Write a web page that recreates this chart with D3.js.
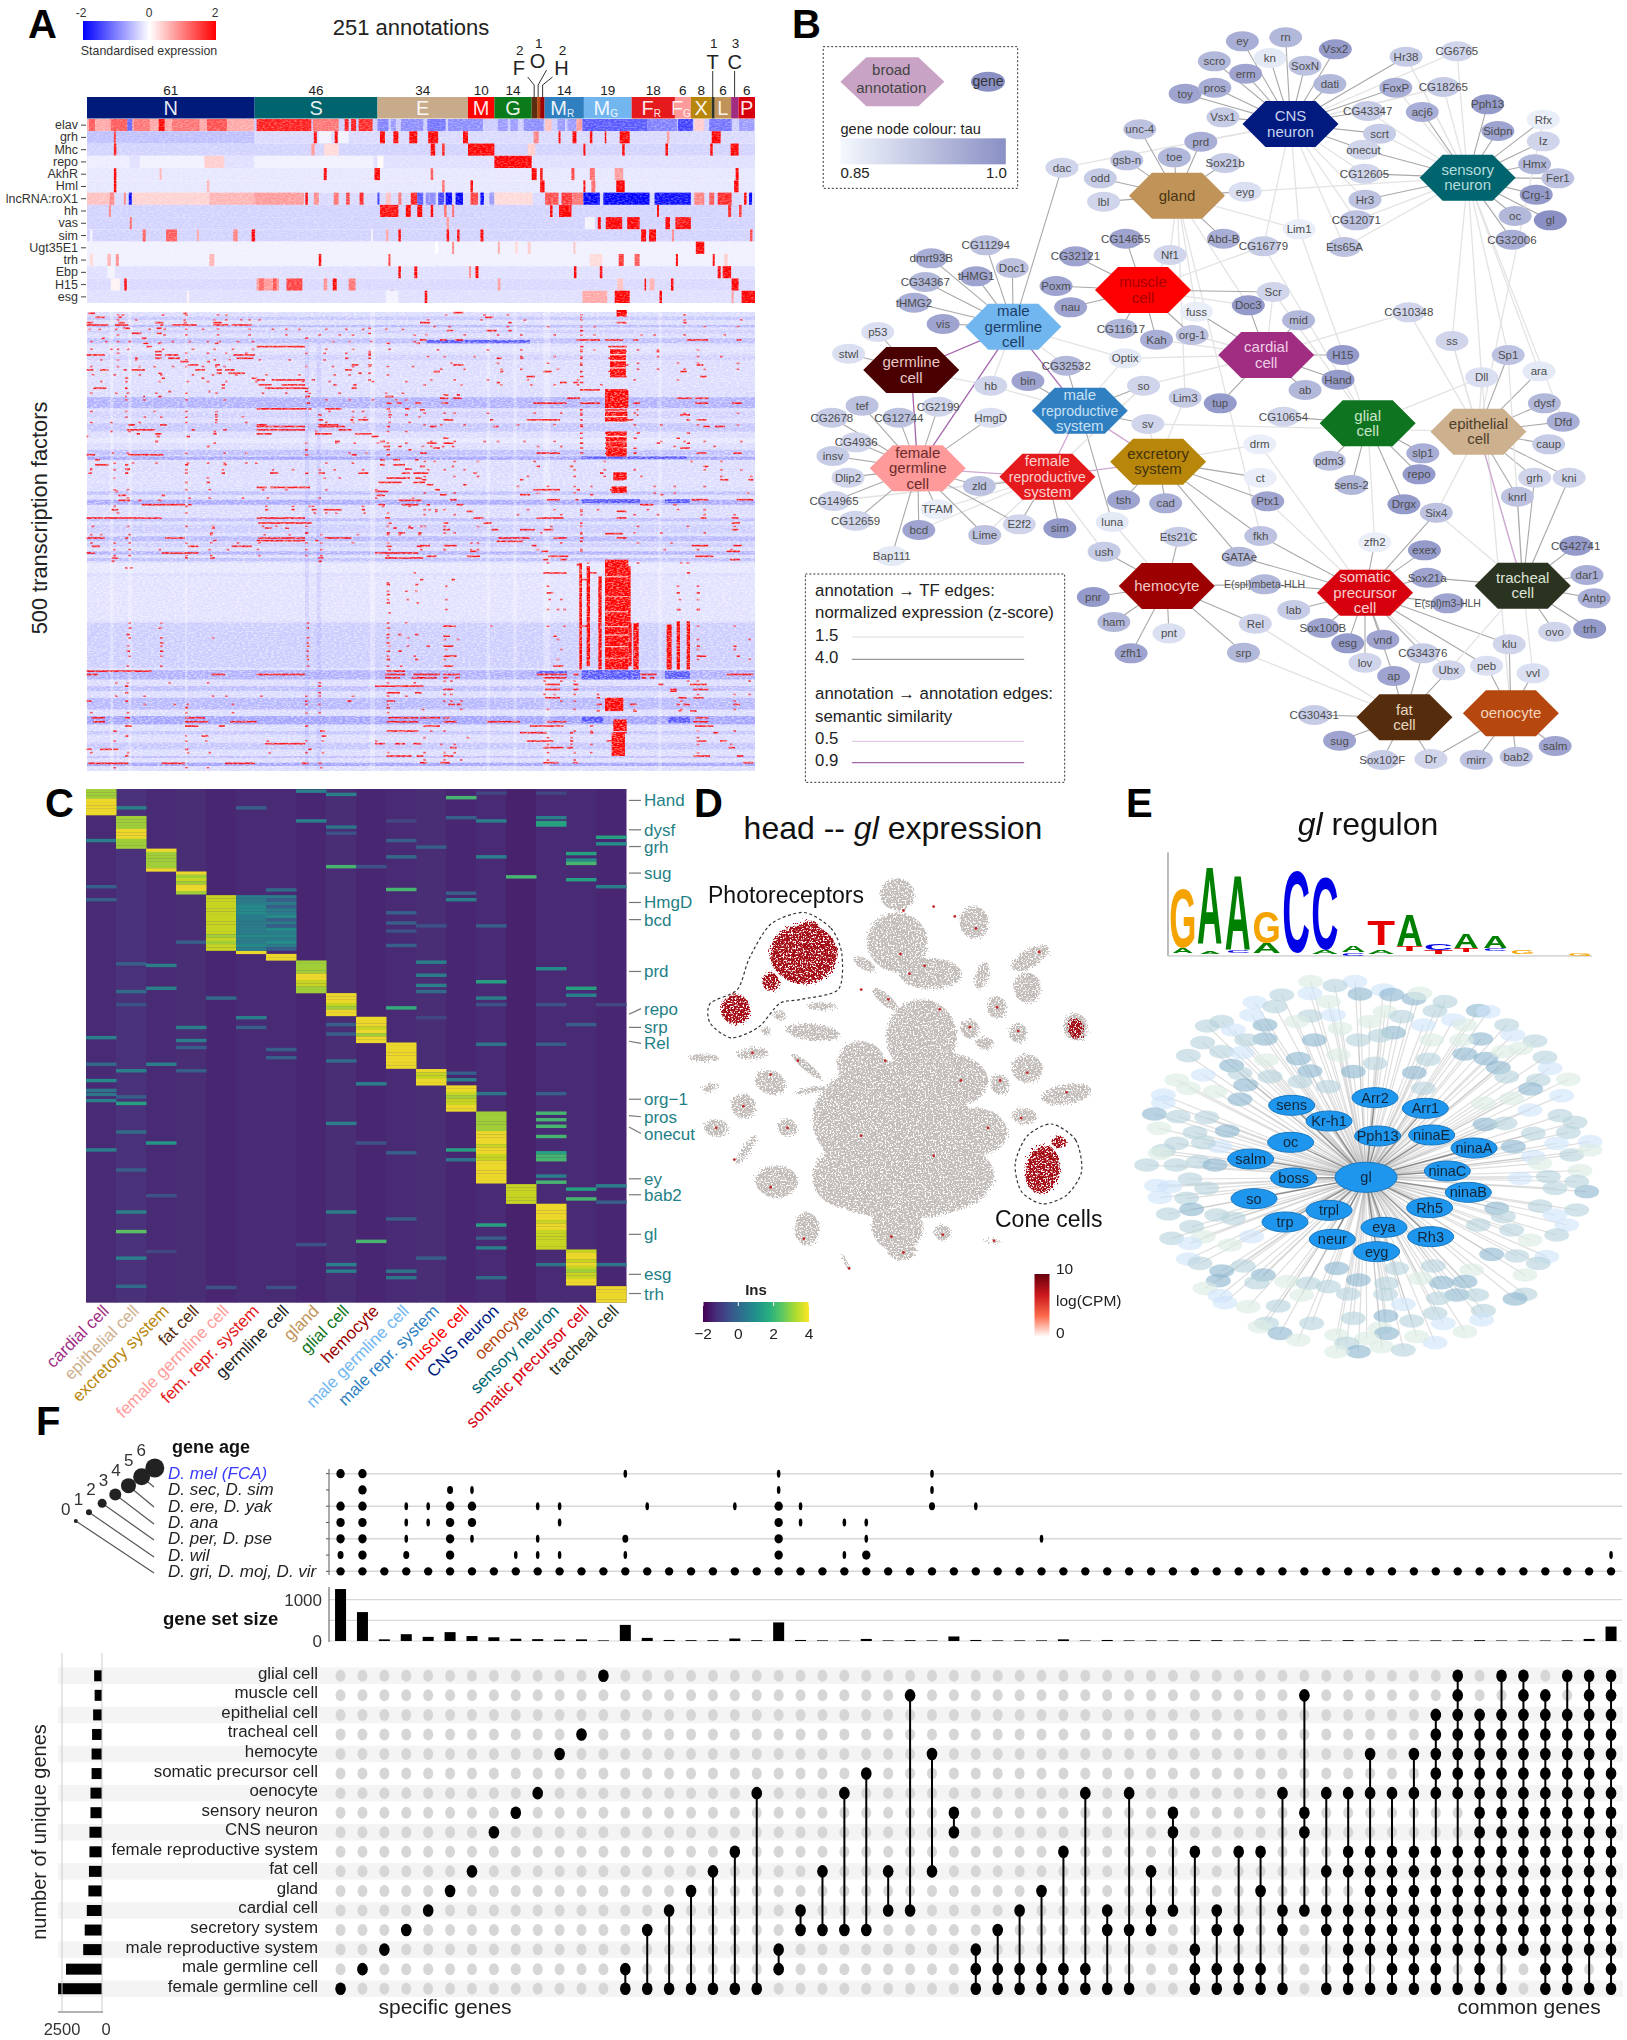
<!DOCTYPE html>
<html>
<head>
<meta charset="utf-8">
<script src="https://cdn.jsdelivr.net/npm/d3@7"></script>
<style>
  body { margin: 0; background: #fff; }
  svg { display: block; }
  text { font-family: "Liberation Sans", Arial, sans-serif; }
</style>
</head>
<body>
<div id="chart"></div>
<script>
// ---------- panel A data ----------
const groupLabels = ["N","S","E","M","G","F","O","H","M","M","F","F","X","T","L","C","P"]
const groupSubs   = ["","","","","","","","","R","G","R","G","","","","",""]
const groupCounts = [61,46,34,10,14,2,1,2,14,19,18,6,8,1,6,3,6]
const groupEdges  = [174,511,758,940,993,1068,1079,1085,1094,1173,1269,1356,1388,1430,1436,1469,1484,1517]
const groupColors = ["#001a7a","#00646e","#c8ab8a","#ff0000","#0a7a1a","#5c2d10","#b5470f","#9c0000","#2f7fc1","#72b6f0","#e41a1c","#ff9a9a","#b8860b","#2a3320","#c09358","#a02d82","#d7000f"]
const topRows = ["elav","grh","Mhc","repo","AkhR","Hml","lncRNA:roX1","hh","vas","sim","Ugt35E1","trh","Ebp","H15","esg"]
const topBase = [-.4,-.3,-.35,-.25,-.2,-.2,-.3,-.35,-.35,-.35,-.12,-.12,-.25,-.3,-.25]
const topSegs = [
  "174-510:.7 178-190:1.3 222-255:1.3 255-265:-1.2 268-300:1.1 318-330:2 345-400:1.1 415-455:1.4 515-625:1.8 628-680:1.1 692-700:1.8 705-715:1.8 720-748:1.7 758-780:-1 785-795:-.8 805-850:-.9 858-895:-1.1 900-970:-.9 1000-1020:-.8 1025-1040:-.8 1052-1092:-.9 1095-1108:.5 1120-1135:-.8 1140-1158:-.8 1158-1170:.8 1170-1300:-1.3 1300-1360:-1 1362-1392:-1.5 1395-1415:.4 1425-1470:-1.1 1485-1515:-.8",
  "174-510:-.5 228-232:1.6 630-636:2 672-678:2 763-773:2 790-800:2 822-838:2 860-880:2 930-940:2 1072-1082:1 1122-1126:2 1150-1158:2 1185-1190:2 1215-1218:2 1245-1265:2 1430-1448:2 1340-1345:.8 640-665:-.1 680-700:-.1",
  "228-233:1.8 625-632:.8 865-874:2 888-893:1.8 940-993:2 1172-1176:2 1250-1255:2 1337-1342:2 1427-1432:2 1468-1484:2 650-680:.3 1060-1075:.4",
  "175-260:-.15 280-450:-.12 410-450:.4 510-750:-.12 993-1068:2 758-770:.05",
  "228-233:2 320-324:.6 650-656:2 752-763:2 865-870:1.3 1068-1078:2 1085-1090:2 1148-1154:1.5 1185-1195:1.2 1235-1252:.8 1478-1484:2",
  "228-233:2 415-420:.6 888-893:1.2 945-950:2 1085-1094:2 1172-1176:2 1238-1255:2 1475-1484:2 1188-1196:1.2",
  "174-230:.5 220-228:1 248-252:1 258-264:-2 265-420:.35 420-510:.6 510-610:.8 613-618:2 630-640:.9 670-680:1.1 695-702:1.5 722-730:1.7 758-762:-1.5 775-785:.5 800-806:1.1 825-838:1.8 838-850:-1.3 855-875:-.9 880-892:-1.5 895-908:-2 915-930:-2 945-960:1.5 965-972:-2 983-993:-.8 993-1070:.3 1095-1122:1.4 1128-1150:1.6 1150-1172:1.1 1172-1205:-2 1212-1305:-2 1315-1388:-1.9 1395-1415:1 1425-1435:1.3 1442-1470:1.7 1495-1500:2 1505-1511:-2",
  "218-222:1 763-800:1.9 815-825:2 838-848:2 865-870:2 892-897:1.2 908-912:1.2 1105-1110:2 1123-1148:2 1320-1324:2 1463-1469:1.7 1485-1490:1.7",
  "260-264:1.2 897-902:.8 1175-1195:-.1 1201-1207:2 1217-1250:2 1260-1285:2 1337-1346:2 1357-1388:1.9",
  "180-185:-.1 286-292:1.3 333-355:1.3 395-399:.7 468-477:1 505-512:2 745-749:-.1 775-780:.7 800-805:2 897-902:2 918-923:2 965-971:2 1288-1298:2 1304-1318:2 1350-1354:1 1507-1512:1.5",
  "874-880:0 908-912:1 1000-1004:.7 1398-1415:2 1152-1156:.5 1035-1040:.3 1060-1066:.4",
  "180-186:.3 215-222:.6 232-238:.9 420-430:.6 640-645:2 780-784:1.5 1185-1210:.3 1243-1253:1.6 1275-1285:1.3 1358-1362:2 1432-1436:2 1455-1462:.4",
  "800-805:2 832-838:2 942-946:.9 955-961:2 1153-1158:2 1205-1210:2 1442-1448:2 1452-1469:2 215-230:-.1",
  "222-240:.1 249-254:2 515-560:.8 520-530:1.2 548-555:1.4 575-607:1.5 650-657:.9 668-676:2 700-714:1.1 1000-1005:.8 1295-1298:2 1305-1315:.6 1348-1353:2 1470-1484:2 1240-1252:.5",
  "375-379:.1 785-790:2 853-858:2 775-800:-.1 1170-1220:.7 1235-1265:2 1325-1330:2 1470-1474:.8 1490-1517:2"
]
// main heatmap, read-off units: horizontal background bands "v1-v2:z"
const mainBands = "20-30:-.6 45-52:-.8 60-70:-.5 85-100:-.7 110-125:-.2 135-150:-.45 160-175:-.3 200-215:-.25 240-255:-.3 262-295:-.9 305-325:-.45 340-365:-.6 385-400:-.15 420-437:-.7 440-450:-1.1 470-490:-.3 510-525:-.25 545-555:-.7 570-585:-1 600-615:-.3 625-635:-.7 645-670:-.5 680-695:-.8 700-712:-.5 725-735:-.9 745-755:-.7 760-790:-.15 800-935:-.2 940-1075:-.5 1082-1110:-.9 1130-1145:-.7 1165-1200:-.8 1220-1245:-1.1 1265-1275:-.6 1300-1320:-.6 1340-1346:-.7 1360-1370:-1.1".split(" ")
const mainColsPale = ["75-85","130-140","300-306","855-870","1205-1215","1285-1295","1720-1730","1375-1395"]
const mainColsBlue = ["660-672","695-708"]
// left half: "v u1-u2 u3-u4 ..."
const hotLeft = [
 "10 10-30 295-305","22 30-60 100-110","38 5-25 100-120 210-235 295-305 385-410","45 5-70 90-130 225-235 260-335 385-430 440-500","55 115-135 215-230 850-858","70 140-170 215-230 850-858","85 170-185 50-60 660-670","100 175-190 220-230 390-400 905-915 995-1005","110 185-200 515-660","125 210-230 850-858","135 5-60 210-230 240-280 445-510 850-858","145 150-160 210-230 250-285 455-505 780-790 850-858","155 285-310 365-375","165 310-340 390-405 800-820 850-860","180 5-25 45-70 115-125 140-180 330-360 395-410 420-450 780-800","190 395-410 430-480 220-230 820-830 850-858","205 500-515 120-130 350-358 230-240","210 515-540 560-660 680-690 850-858","225 520-560 590-660 745-755 410-420 805-815","235 25-65 540-670 800-815 410-420 120-128","245 660-670 250-258 370-376","260 120-125 175-180 660-675 900-925 220-230","280 665-675 905-920 935-950 990-1010","297 515-665 670-680 720-770 905-915 960-975","315 700-710 390-398 910-920 960-968","330 700-715 795-805 820-850 390-398","345 515-545 700-760 130-150 225-245","350 515-660 700-780 905-915","360 125-210 515-660 760-800 320-330 415-425","372 210-230 385-395 515-560 690-740 810-860 155-165","380 5-10 215-225 860-880 305-315","395 885-900 210-220 750-765","410 895-915 940-950 365-375","420 905-915 970-980 660-668","435 5-30 130-235 905-915 660-670 800-815","450 885-900 925-945 990-1000 30-45","465 30-70 885-900 925-960 300-310 415-425 120-130","478 960-980 120-135 15-22","490 10-20 120-130 555-580 660-670 700-720 820-850 950-975 985-1010 300-308 410-420","505 990-1010 905-975","518 880-950 985-1020 300-308 365-375","533 555-640 515-545 640-675","545 870-910 90-100","557 100-125 875-900 230-240","572 100-135 160-170 940-1010 220-230","585 170-300 880-900 950-1000 310-320","600 680-695 715-770 830-840 540-550 620-630 80-100","625 5-230 515-660 900-915","640 520-680 910-920","655 540-560 600-612 380-390 925-935 970-985","670 375-385 660-670 905-915 940-960 1000-1010","685 5-60 120-130 240-300 520-660 720-800","693 515-660 690-700 385-395","710 20-45 310-340 440-500 905-920 995-1015","730 5-30 230-340 870-1000","745 80-100 300-308 375-390 700-715 900-1015","755 700-710 80-90",
 "825 905-915 990-1000","855 905-915","880 905-915 995-1002","955 130-140 220-230 665-672 905-915","975 125-135 905-915 940-950 990-1000","1000 225-235 905-915 665-672","1025 125-135 225-235 905-915 665-672 940-950","1050 905-915 665-672 990-1000",
 "1085 5-200 905-960","1095 5-40 380-420 515-660 900-960 985-1010","1105 900-945 980-1015","1130 700-710 870-1015 120-130","1150 120-130 905-945 990-1010 700-708","1175 5-20 120-130 905-930 660-670 785-800","1195 905-915 300-310","1225 20-60 120-135 300-360 910-1000","1237 25-60 300-370 435-515 905-1000","1250 120-140 300-340 400-420 660-670","1265 85-95 705-720 905-1000","1280 300-305 350-370 120-130 710-725","1303 540-660 870-900 930-960 985-1010","1320 5-20 45-80 85-100 300-310 670-680","1340 905-980 995-1015 120-130","1362 10-130 230-300 420-510 650-670 700-710"
]
const hotRight = [
 "8 100-130 590-620","22 195-220 480-485","38 0-30 265-275 590-620 790-800","62 80-100 200-230 265-275 480-490","90 0-20 60-80 105-130 470-540 555-610 640-655 800-865 950-965","110 480-490 565-620","125 570-620 480-488 710-718","145 230-245 300-310 480-488 565-615","165 100-130 480-488 570-625 830-850","185 40-60 240-250 370-395 480-488 565-615 780-800","200 320-345 480-490 570-620 840-860","218 230-240 420-440 460-475 480-490",
 "240 480-540 555-620","255 70-85 110-120 555-625","265 60-85 100-125 440-480 555-625 770-815 825-865","280 65-85 340-440 480-540 555-620 640-660 825-865 935-965","300 0-15 480-488 555-620 650-655","315 480-488 555-620 650-655 780-810","330 70-100 210-220 320-420 480-488 555-640 800-810 830-860","350 30-50 220-235 480-490 850-870 885-915","370 480-488 555-620 650-660 800-810","385 70-85 480-488 555-615 640-650 770-780","400 20-50 70-100 480-490 555-610 710-720 800-810","415 40-60 480-490 555-610 640-650 780-810","430 0-20 350-420 480-490 555-615 640-650 830-860 940-965",
 "470 0-15 95-102 350-360 450-460 850-865","490 0-25 160-170 580-620 540-550","510 5-20 300-310 580-610 900-925 985-1000","525 20-40 130-140","540 45-60 340-420 470-480 570-620","555 60-80 300-330 510-520 720-730","570 90-110 380-420 465-475 815-865 950-1000","585 110-130 20-30 660-700 760-770","605 140-160 45-52 590-620 480-488","625 160-190 350-430 590-620 840-860 935-955","640 190-215 70-85 480-488 935-960","660 215-235 70-90 300-345 370-400 935-955","672 555-610 480-488","685 235-330 400-440 480-490 590-620","695 230-310 480-488","708 335-350 0-30 70-110 815-865 940-965","725 365-385 150-170 480-488 920-960","740 385-445 20-50 140-180 825-880","750 420-440 370-385 930-960",
 "765 470-485","790 370-440 505-530 800-810","810 0-10 95-105 480-510","850 380-400 770-780 830-840","900 770-780 830-840","950 70-100 480-510","980 70-90 400-410","1010 20-30 70-100 770-780 830-840 940-950","1040 70-110 830-860 950-960","1070 70-100 400-430",
 "1095 0-60 70-120 350-440 460-475 660-710 920-1000","1105 0-50 70-85 105-120 370-440 665-680 690-705","1125 715-730 375-420 460-475 810-860","1140 70-100 375-420 460-475 750-770 820-865","1145 750-770","1165 775-800 375-420 530-540 820-850","1185 790-810 85-105 110-125 530-545 770-780 630-650 940-960","1205 810-830 775-785 530-540 640-650","1225 825-865 0-60 70-90","1237 70-110 200-300 380-440 820-865","1250 825-880 10-60 330-430 510-520","1270 880-895 300-380 450-460 510-520 580-620","1295 900-920 320-400 450-460 560-610 830-860","1315 925-945 370-430 440-460 90-110","1340 950-970 70-100 820-870","1360 970-1000 370-415 460-475 0-20 60-90"
]
const hotRightBlocks = ["555-625:750-1080","478-486:760-1080","535-545:800-1080","640-656:940-1080","620-632:770-940","770-780:935-1080","800-810:935-1080","740-755:945-1080","555-610:1165-1205","580-620:1230-1265","500-510:770-1070","625-635:940-1070","555-625:240-295","555-622:305-335","558-620:365-440","570-618:118-200","590-620:0-20","575-615:1270-1340","580-620:490-510","575-620:530-550"]
const blueRightBlocks = ["485-660:1082-1110","735-810:1085-1108","485-550:1222-1240","745-810:1222-1240","485-800:440-447","485-660:568-580","735-810:568-580","350-440:1085-1092","20-330:90-100"]
const paleRightGaps = ["555-625:950-953","555-625:975-978","555-625:1010-1013","555-625:1045-1047","555-625:800-803","555-625:860-862","555-625:905-908","570-618:132-136","570-618:150-154","570-618:172-176","558-620:378-382","558-620:395-398","558-620:412-416","555-622:318-322"]
// single hot cells, "v u u u ..."
const spotsLeft = ["15 95 110 230 300 395 420","30 95 150 295 385 420 465 490 520","58 10 40 90 190 235 300 350 395 490 560 600 640 720 780 830 900 950","75 95 235 300 395 490 600 700 760 800 985","95 15 60 95 130 260 310 365 400 455 500 740 790 855 985","118 15 75 95 125 230 320 385 440 500 720 800 910","130 95 300 365 420 480 660 715 780 850","150 45 95 150 300 385 430 520 610 715","170 15 95 160 205 260 300 350 390 415 660 740 800 850 905 980","195 20 85 160 225 320 380 450 540 640 745 790 905","215 45 120 220 305 365 420 510 650 730 860 960","250 15 90 125 210 300 390 530 600 670 760 900 950","270 120 175 300 415 720 790 860 930 960","305 15 120 205 300 390 730 800 830 910","322 120 175 225 300 390 470 800 835 910 1000","338 15 75 160 300 390 480 720 800 910 970","365 75 130 385 690 905 960","400 385 660 750 805 875 905 960","430 80 125 300 415 480 790 840","460 85 140 210 305 365 415 480 510 720 800","480 15 85 125 300 410 560 620 700 745 830","505 85 365 715 760","540 85 125 300 370 530 600 720 870","565 125 310 370 470 545 700 870 980","590 85 300 540 620 670 680 830 890 970","610 95 300 685 720 750 835 905","650 20 125 300 380 530 570 660 905 970 1005","675 15 45 130 375 535 610 705 815 905 940 1000","700 15 85 130 300 375 455 520 660 705 800 905","720 85 130 220 370 425 515 660 705 910","738 85 130 300 375 520 660 705 905","775 120 135","790 985","820 905","845 905 960 990","870 905 965","910 910","940 130 225 665 905 960","985 130 225 380 665 905 965","1010 125 225 665 910 965","1040 130 225 665 905 985","1070 125 225 665 905 945","1120 90 125 250 365 700 905 985","1160 90 175 380 420 525 660 700 800 905 960","1185 175 265 305 440 660 700 905","1210 15 125 300 440 660 700 905","1295 85 300 360 545 660 710 870","1330 15 125 305 370 550 660 710 905","1375 85 300 365 705"]
const spotsRight = ["15 75 190 260 480 790","30 20 180 310 480 790 960","50 40 85 260 380 480 520 850 950","75 15 130 230 300 400 480 520 660 700 790 910","120 50 200 300 480 520 650 710 830","140 20 70 160 300 400 480 710 830 900","160 90 230 380 480 650 770 830 950","178 60 130 240 300 410 650 710 790 850 950","210 30 100 200 320 470 640 770","225 10 120 240 330 400 470 540","310 10 70 100 200 340 420 480 640 790 950","345 10 60 130 290 400 480 640 720 830 950","395 30 100 190 230 310 400 720 790 850 960","410 5 30 65 95 350 420 760 880","455 10 40 100 170 340 460 550 810 900","480 20 70 130 460 550 640 850 900 960","500 10 100 170 320 460 550 660 900 990","530 290 380 460 510 700 760 850","550 10 100 350 460 700 760 980","600 10 25 45 70 320 400 480 530 680 770 850","615 10 100 290 420 480 640 710 850 940","650 10 70 170 390 480 650 800 940","670 70 100 360 480 640 720 850","700 150 170 420 650 750","720 0 70 150 170 350 480 730 830 930","760 380 500 650 780 800","830 75 380 770 830","870 75 385 420 775 830","900 75 380 410 430 775 830","950 70 100 210 380 430 830 940","990 70 110 410 830 985","1020 75 420 830 940","1050 70 410 830 985","1115 70 90 370 420 460 800 830 985","1155 70 90 370 400 460 530 830 940 985","1175 70 90 120 420 460 780 940","1200 5 120 380 460 640 780 940","1265 30 70 460 510 830 940","1285 10 140 380 450 830","1305 60 100 380 450 510 830 930","1330 10 70 100 380 460 510 830","1352 10 70 120 380 460"]

// ---------- panel C data ----------
const cCells  = ["cardial cell","epithelial cell","excretory system","fat cell","female germline cell","fem.  repr. system","germline cell","gland","glial cell","hemocyte","male germline cell","male repr. system","muscle cell","CNS neuron","oenocyte","sensory neuron","somatic precursor cell","tracheal cell"]
const cColors = ["#a02d82","#cdb08e","#b8860b","#562d0c","#ff9a9a","#e41a1c","#222222","#c09358","#0f7420","#9c0000","#72b6f0","#2f7fc1","#ff0000","#001a7f","#b5470f","#00646e","#d7000f","#2a3320"]
const cColBase = [.1,.13,.1,.11,.09,.1,.1,.09,.11,.09,.1,.11,.09,.1,.08,.1,.1,.09]
const cBlockStart = [22,88,168,224,282,418,426,442,522,580,643,708,748,812,990,1038,1150,1240]
const cBlockDigits = ["77799999","7777999777","9777779","9787997","88888888888878788","9","99","7777998877","9998799","99989799","99999999","98899","99878899","7777779999899889999999","888888","99999899888888","89989878899","99999"]
const cTeal5 = "44455544444454454"
const cTeal6 = "43434453435454543"
const cStripes = [[7,27,.45],[8,35,.45],[12,43,.7],[13,32,.2],[15,32,.2],[1,68,.45],[5,68,.3],[7,100,.45],[10,100,.2],[12,92,.3],[13,100,.45],[15,92,.45],[15,110,.6],[15,104,.6],[8,115,.4],[8,130,.25],[17,140,.6],[17,156,.5],[0,148,.45],[10,148,.3],[11,164,.3],[16,180,.6],[16,196,.5],[16,204,.7],[13,188,.45],[10,188,.35],[8,212,.7],[9,212,.25],[14,237,.7],[16,244,.6],[17,261,.45],[0,261,.3],[10,268,.7],[12,277,.3],[12,293,.45],[0,293,.3],[6,269,.35],[13,357,.3],[10,325,.3],[10,350,.3],[10,370,.25],[10,405,.3],[3,397,.3],[11,357,.25],[1,450,.3],[2,454,.45],[1,518,.35],[2,510,.45],[11,446,.45],[11,478,.45],[11,503,.45],[11,518,.35],[13,494,.6],[15,462,.5],[16,510,.6],[16,527,.45],[4,534,.35],[13,534,.45],[13,550,.25],[15,550,.25],[1,550,.25],[10,558,.65],[5,582,.45],[5,606,.3],[3,606,.45],[3,638,.45],[0,631,.45],[8,599,.3],[8,622,.3],[11,582,.2],[17,550,.2],[16,599,.3],[3,655,.3],[13,647,.4],[15,647,.3],[0,696,.35],[2,696,.45],[1,712,.45],[8,688,.35],[6,660,.3],[6,680,.3],[3,712,.3],[12,718,.3],[12,734,.45],[9,744,.45],[0,736,.5],[0,760,.4],[0,770,.4],[0,785,.45],[1,792,.6],[1,776,.3],[13,768,.4],[15,768,.3],[8,841,.45],[1,862,.35],[2,889,.55],[0,906,.45],[12,906,.6],[12,930,.4],[9,889,.25],[10,913,.3],[1,955,.3],[15,816,.7],[15,832,.7],[15,848,.7],[15,873,.7],[15,913,.6],[15,921,.7],[15,930,.7],[15,970,.45],[15,985,.7],[13,1090,.6],[13,1122,.3],[13,1146,.45],[16,1002,.6],[16,1026,.7],[17,994,.45],[17,1034,.3],[8,1058,.45],[1,1058,.45],[1,1106,.75],[1,1171,.45],[1,1240,.35],[9,1130,.7],[8,1187,.45],[8,1203,.45],[10,1075,.3],[10,1203,.4],[10,1219,.4],[13,1219,.35],[15,1187,.4],[17,1187,.4],[11,1171,.3],[4,1243,.25],[6,1243,.25],[7,1138,.25],[2,1018,.25],[2,1155,.2]]
const cTFs   = ["Hand","dysf","grh","sug","HmgD","bcd","prd","repo","srp","Rel","org−1","pros","onecut","ey","bab2","gl","esg","trh"]
const cTFpos = [50,122,163,228,300,342,469,560,606,645,782,825,866,977,1016,1113,1211,1258]
const cTFrow = [50,122,163,228,300,342,469,574,606,640,782,822,850,977,1016,1113,1211,1258]

// ---------- panel B data ----------
const hubNames = ["CNS neuron","sensory neuron","gland","muscle cell","male germline cell","germline cell","cardial cell","male reproductive system","epithelial cell","glial cell","excretory system","female reproductive system","female germline cell","hemocyte","somatic precursor cell","tracheal cell","fat cell","oenocyte"]
const hubColors = ["#001a7f","#00646e","#c09358","#ff0000","#72b6f0","#4a0000","#a02d82","#2f7fc1","#cdb08e","#0f7420","#b8860b","#e41a1c","#ff9a9a","#9c0000","#d7000f","#2a3320","#562d0c","#b5470f"]
const hubText   = ["#c8d2f0","#b4dcdc","#4a3312","#a80000","#1c3e66","#e8c8c8","#f0cfe6","#c8e0f4","#4e3f2c","#c8e6c8","#43320a","#fbd0d0","#6a2c2c","#f4c8c8","#f8d0d0","#dfe4d8","#e8d6c0","#f4d4bc"]
const hubX = [945,1273,735,672,432,243,900,555,1293,1088,700,495,255,716,1083,1375,1156,1353]
const hubY = [372,533,587,870,980,1110,1065,1232,1295,1270,1385,1430,1405,1758,1778,1757,2152,2140]
const geneNames = "ey rn kn Vsx2 scro erm SoxN dati Hr38 CG6765 toy pros FoxP CG18265 Vsx1 CG43347 acj6 Pph13 Rfx unc-4 scrt Sidpn Iz prd onecut toe gsb-n Sox21b Hmx dac odd Fer1 CG12605 eyg Crg-1 lbl Hr3 oc gl CG12071 Lim1 CG14655 Abd-B CG32006 CG16779 Ets65A CG11294 dmrt93B Nf1 CG32121 Doc1 tHMG1 CG34367 Poxm Scr tHMG2 nau Doc3 fuss CG10348 mid vis CG11617 org-1 Kah p53 ss stwl H15 Sp1 Optix CG32532 Hand Dll ara hb bin so ab Lim3 tup dysf tef CG2199 CG2678 CG12744 HmgD sv Dfd caup CG4936 drm CG10654 insv slp1 Dlip2 repo pdm3 ct grh kni zld sens-2 tsh cad Ptx1 knrl Six4 Drgx CG14965 CG12659 TFAM E2f2 sim bcd Lime luna fkh Ets21C zfh2 ush exex GATAe CG42741 Bap111 dar1 Sox21a E(spl)mbeta-HLH pnr E(spl)m3-HLH Antp lab ham Sox100B Rel pnt ovo trh esg vnd klu zfh1 srp lov CG34376 peb Ubx vvl ap CG30431 sug salm Sox102F Dr mirr bab2".split(" ")
const geneX = [856,936,907,1028,804,862,972,1018,1159,1253,750,805,1140,1228,820,1088,1189,1310,1413,666,1110,1329,1413,779,1080,730,642,824,1397,522,593,1440,1082,861,1400,599,1083,1361,1426,1067,961,640,821,1355,895,1045,381,280,722,547,430,363,269,511,913,248,538,867,771,1164,960,302,631,763,697,181,1244,127,1042,1348,639,530,1033,1299,1405,390,459,673,972,750,815,1415,152,293,96,220,390,681,1450,1423,141,888,932,98,1190,126,1183,1017,889,1397,1461,369,1058,636,714,903,1365,1215,1155,100,140,291,443,518,257,379,615,890,738,1101,600,1193,850,1473,207,1494,1198,897,580,1236,1507,951,618,1005,880,720,1434,1499,1051,1116,1350,650,858,1083,1190,1308,1238,1394,1136,989,1036,1435,1115,1205,1289,1363]
const geneY = [124,112,174,148,184,221,197,252,170,154,281,263,263,261,352,333,336,313,359,388,401,393,424,425,449,472,481,489,493,503,535,535,521,575,584,605,599,648,661,661,688,716,716,719,739,741,736,775,765,769,804,829,846,858,876,908,922,916,935,937,961,972,986,1005,1019,996,1023,1061,1065,1065,1075,1097,1139,1132,1114,1157,1143,1157,1170,1193,1210,1210,1217,1220,1253,1253,1253,1272,1265,1333,1327,1333,1250,1368,1360,1433,1423,1382,1433,1433,1433,1458,1455,1500,1510,1504,1490,1538,1513,1503,1562,1528,1573,1585,1590,1605,1566,1608,1610,1627,1655,1651,1670,1637,1668,1725,1733,1753,1791,1810,1795,1830,1866,1884,1871,1900,1895,1886,1930,1919,1933,1960,1958,1988,1960,1997,2011,2020,2028,2145,2222,2238,2280,2277,2279,2270]
const geneTau = [.7,.6,.1,.9,.6,.8,.5,.6,.4,.3,.8,.7,.7,.4,.4,.4,.7,.9,.05,.5,.4,.8,.3,.7,.3,.6,.5,.4,.6,.3,.4,.5,.3,.2,.9,.3,.5,.6,1,.5,.05,.8,.7,.7,.4,.5,.5,.7,.3,.8,.5,.8,.6,.8,.3,.7,.8,.9,.05,.3,.6,.8,.6,.5,.7,.2,.3,.2,.9,.5,.1,.6,.9,.2,.1,.3,.8,.3,.6,.4,.9,.6,.5,.3,.4,.5,.2,.3,.7,.4,.3,.05,.3,.4,.7,.3,.9,.5,.05,.3,.3,.5,.6,.8,.7,.8,.5,.5,.9,.3,.3,.05,.3,.9,.8,.5,.1,.5,.4,.05,.4,.9,.6,.9,.1,.7,.8,.6,.9,.8,.7,.4,.6,.8,.3,.2,.3,.9,.9,.8,.3,.8,.6,.3,.4,.2,.3,.2,.8,.4,.8,.8,.4,.3,.5,.5]
const edgeHub = [0,1,2,3,4,5,6,7,8,9,10,11,12,13,14,15,16,17]
const edgeStrong = ["ey rn kn Vsx2 scro erm SoxN dati Hr38 FoxP toy pros Vsx1 CG43347 scrt onecut","Pph13 Rfx Iz Hmx Fer1 Crg-1 oc gl CG32006 Sidpn onecut Hr3 CG12605 acj6","unc-4 toe gsb-n odd prd Sox21b eyg lbl Abd-B","Poxm nau CG32121 CG14655 CG11617 Kah org-1 Scr","CG11294 dmrt93B Doc1 tHMG1 CG34367 tHMG2 vis dac","p53 stwl","mid H15 Hand ab tup Doc3 fuss","bin CG32532 so sv luna","dysf Dfd caup grh kni knrl ara Sp1","CG10654 slp1 repo pdm3 sens-2 Drgx","tsh cad Ptx1 GATAe fkh ct","sim zld E2f2","tef CG2678 CG12744 CG4936 insv Dlip2 CG14965 CG12659 TFAM bcd Bap111 Lime zld E2f2 CG2199 HmgD","pnr ham zfh1 pnt Rel srp ush Ets21C E(spl)mbeta-HLH","lab Sox100B esg vnd lov exex Sox21a Six4 zfh2 GATAe fkh klu E(spl)m3-HLH E(spl)mbeta-HLH CG34376 peb ap","CG42741 dar1 Antp ovo trh knrl kni grh Sox21a","CG30431 sug Sox102F Dr ap CG34376 Ubx","salm bab2 mirr Dr peb klu vvl"]
const edgeWeak = ["CG6765 Lim1 CG12605 Hr3 CG12071 Ets65A CG16779 prd CG18265 dac","scrt CG43347 Hr38 CG18265 CG6765 FoxP CG12071 Ets65A eyg ss Dll Sp1 ara Dfd","Lim1 fuss Nf1 Doc3 fkh Lim3","Nf1 CG16779 Doc3","Optix hb CG32532","hb","Scr Kah org-1 CG10348 so Optix","hb Optix","Dll ss sv Six4 Rfx CG10348","Lim1 Dll zfh2 Scr CG16779","drm sv Lim3","ush Lime bcd TFAM CG14965 so","","luna","drm Ptx1 Ubx","vvl Six4 Ubx ss Sp1","Rel srp","Dll"]
const simPairs = [[4,5],[5,12],[4,12],[4,7],[7,11],[7,10],[12,11],[11,10],[8,15]]

// ---------- panel D data ----------
const greyClusters = [[350,860,130,150,0],[400,650,58,95,10],[370,1000,150,110,0],[490,890,52,60,0],[285,1010,65,75,0],[360,1130,42,62,0],[367,1190,24,24,0],[440,760,70,70,0],[300,720,40,60,0],[360,290,28,40,0],[360,410,50,75,0],[415,490,52,38,0],[487,360,24,40,0],[580,450,35,22,-30],[575,525,22,38,0],[500,495,11,35,20],[305,465,20,14,30],[340,555,26,14,40],[525,575,16,28,0],[560,640,15,24,0],[480,630,15,24,0],[505,665,15,15,0],[655,625,20,35,-10],[575,730,25,35,0],[640,795,42,24,-10],[530,770,15,25,0],[570,850,20,20,0],[505,1010,15,18,0],[220,638,45,20,5],[120,692,26,14,-5],[40,703,25,9,0],[50,778,15,9,-20],[150,765,25,30,20],[210,725,32,10,40],[105,825,20,30,0],[60,880,20,22,0],[178,880,16,22,0],[110,935,30,9,-55],[160,1015,35,40,0],[210,1135,20,42,0],[435,1145,14,20,0],[518,1167,14,4,0],[275,1220,3,22,-25],[215,785,26,7,-10],[235,572,25,9,0],[165,595,10,12,0],[143,635,7,12,0]]
const redClusters = [[205,440,56,75,0],[215,372,15,16,0],[150,510,14,24,0],[92,580,24,38,0],[600,985,28,62,10],[627,915,12,15,0],[655,628,12,26,0]]
const redSpots = [[370,330],[365,440],[405,470],[490,375],[380,490],[345,555],[420,320],[455,345],[525,575],[560,635],[480,625],[595,435],[575,740],[640,790],[530,760],[150,745],[105,825],[60,880],[178,880],[90,960],[150,1030],[205,1160],[435,1150],[370,1195],[350,1155],[520,1165],[280,1235],[300,530],[430,580],[465,760],[510,880],[565,855],[120,690],[195,710],[340,710],[300,900],[420,950]]
const photoOutline = [[205,335],[250,375],[268,440],[262,530],[200,555],[165,565],[130,625],[85,652],[50,615],[50,565],[95,530],[115,450],[150,365]]
const coneOutline = [[615,870],[655,910],[665,990],[640,1050],[600,1072],[565,1040],[555,970],[575,900]]

// ---------- panel E data ----------
const logoLetters = [["G",810,855,270,422,"#f5a300"],["A",856,898,213,412,"#008000"],["A",902,945,238,430,"#008000"],["G",948,995,332,412,"#f5a300"],["C",997,1043,227,435,"#0000e6"],["C",1045,1090,243,428,"#0000e6"],["A",948,995,412,438,"#008000"],["A",1095,1135,418,436,"#008000"],["T",1138,1184,355,418,"#e60000"],["A",1186,1230,338,420,"#008000"],["C",1232,1280,415,431,"#0000e6"],["A",1281,1322,388,425,"#008000"],["A",1330,1370,395,425,"#008000"],["A",815,850,424,438,"#008000"],["A",860,895,432,440,"#008000"],["C",905,945,430,438,"#0000e6"],["A",1045,1090,430,440,"#008000"],["C",1095,1135,436,444,"#0000e6"],["A",1138,1184,430,440,"#008000"],["T",1186,1230,420,432,"#e60000"],["T",1232,1280,431,441,"#e60000"],["T",1281,1322,425,435,"#e60000"],["C",1330,1370,425,433,"#0000e6"],["G",1375,1415,430,440,"#f5a300"],["G",1470,1510,436,444,"#f5a300"]]
const innerNames = ["Arr2","Arr1","sens","Kr-h1","Pph13","ninaE","ninaA","oc","salm","boss","ninaC","ninaB","so","Rh5","trpl","trp","eya","Rh3","neur","eyg"]
const innerX = [765,916,515,627,773,935,1062,512,392,521,982,1045,402,929,627,495,792,932,637,770]
const innerY = [413,445,436,483,528,525,564,547,597,654,633,697,716,743,751,786,802,830,838,875]
const outerPts = "572,65,1 705,65,0 645,77,2 790,90,0 720,102,3 815,104,3 882,116,3 485,105,2 570,100,0 900,100,1 975,125,2 625,125,1 405,127,0 1075,152,3 465,140,2 945,153,2 1105,155,0 570,168,2 640,165,0 795,155,1 845,170,2 530,185,1 750,185,1 435,195,3 305,185,2 262,198,2 1160,195,2 910,195,0 395,165,0 1000,180,0 1035,195,1 340,210,0 660,205,1 820,218,3 780,227,2 583,240,3 715,240,2 435,237,3 380,240,2 1082,237,3 1178,225,0 1025,240,1 935,240,1 248,248,2 1245,243,2 205,287,2 1035,282,3 1098,296,3 1202,265,1 1275,292,2 535,296,3 305,275,2 365,278,0 655,285,1 1150,275,1 925,298,2 765,310,2 440,300,1 1135,323,3 335,317,3 570,333,3 700,335,3 883,338,3 1290,325,0 1160,350,2 360,340,2 250,345,0 450,350,2 1345,358,1 170,360,1 1255,360,2 377,375,3 540,365,2 625,380,2 910,385,2 1232,387,3 130,405,0 205,385,1 1325,407,0 360,418,3 285,395,1 130,428,0 1090,430,1 1175,415,1 103,462,3 175,470,2 260,472,2 1320,467,2 1230,450,0 1095,493,3 1155,490,2 117,505,1 322,513,3 1365,487,2 225,518,2 1240,520,2 1345,517,2 170,550,2 130,572,2 300,560,0 250,548,2 1180,560,3 1310,550,0 1410,545,0 1240,590,0 1355,585,2 120,580,1 168,615,2 235,605,2 80,615,2 285,615,3 1260,610,1 1410,570,1 210,657,2 110,677,0 1285,650,2 1380,632,1 1200,655,0 150,680,0 260,685,2 1305,685,2 1400,695,3 1370,665,2 120,712,0 200,715,2 1130,745,3 1260,738,2 215,748,3 145,762,2 1370,750,2 290,765,2 1305,765,0 1150,770,2 340,775,2 215,800,2 1075,795,2 1340,795,0 1175,810,2 155,835,2 250,830,1 395,830,0 1310,825,2 1230,840,1 210,850,0 330,855,1 1115,883,3 1190,888,2 205,897,0 1280,890,0 240,910,2 1255,910,2 370,918,2 430,945,3 305,933,3 650,925,3 830,925,2 940,918,2 1055,930,1 295,962,3 410,968,2 500,965,1 715,960,3 965,968,3 1035,965,3 1215,945,1 255,985,1 565,970,2 800,970,2 900,955,1 1010,1005,3 1070,1005,2 1215,1003,2 1185,1017,3 300,1007,0 315,1028,0 385,1040,1 475,1038,2 685,1002,2 797,1003,2 955,1015,2 625,980,2 545,1005,1 1090,1052,2 945,1060,2 850,1033,0 700,1075,2 798,1068,3 875,1083,2 575,1090,2 1085,1080,0 970,1090,0 440,1090,2 420,1100,1 480,1120,3 535,1140,1 780,1105,1 800,1120,3 740,1135,1 650,1125,1 680,1150,2 715,1175,3 650,1175,1 785,1160,1 850,1170,2 945,1148,0 890,1130,1 1035,1115,1".split(" ")

// ---------- panel F data ----------
const setNames = ["glial cell","muscle cell","epithelial cell","tracheal cell","hemocyte","somatic precursor cell","oenocyte","sensory neuron","CNS neuron","female reproductive system","fat cell","gland","cardial cell","secretory system","male reproductive system","male germline cell","female germline cell"]
const setTotals = [490,460,555,620,650,650,720,720,785,785,815,850,950,1080,1175,2250,2745]
const ageNames = ["D. mel (FCA)","D. sec, D. sim","D. ere, D. yak","D. ana","D. per, D. pse","D. wil","D. gri, D. moj, D. vir"]
const combos = [[16],[15],[14],[13],[12],[11],[10],[8],[7],[6],[4],[3],[0],[15,16],[13,16],[12,16],[11,16],[10,16],[9,16],[6,16],[14,15],[12,13],[10,13],[6,13],[5,13],[10,12],[1,12],[4,10],[7,8],[14,15,16],[13,15,16],[12,15,16],[11,15,16],[9,15,16],[6,15,16],[12,13,16],[6,13,16],[10,12,13],[7,8,12],[9,14,15,16],[12,13,15,16],[9,13,15,16],[9,11,15,16],[6,12,13,16],[1,7,8,12],[6,10,12,13,16],[6,9,10,12,13,14,15,16],[4,6,9,10,11,12,13,14,16],[6,9,10,11,12,13,14,15,16],[4,6,9,10,11,12,13,14,15,16],[2,3,4,5,6,9,10,11,12,13,14,15,16],[0,1,2,3,4,5,6,9,10,11,12,13,14,16],[2,3,4,5,6,7,8,9,10,11,12,13,14,15,16],[0,2,3,4,5,6,7,8,9,10,11,12,13,14,16],[0,1,2,3,4,5,6,7,8,9,10,11,12,13,14],[1,2,3,4,5,6,7,8,9,10,11,12,13,14,15,16],[0,2,3,4,5,6,7,8,9,10,11,12,13,14,15,16],[0,1,2,3,4,5,6,7,8,9,10,11,12,13,14,16],[0,1,2,3,4,5,6,7,8,9,10,11,12,13,14,15,16]]
const setSizes = [1258,700,40,165,100,215,120,90,55,45,35,40,15,390,75,25,20,20,60,20,450,25,15,12,50,15,20,15,110,25,15,15,15,40,12,25,15,15,15,20,20,12,12,12,15,12,20,15,15,12,15,15,20,12,12,12,15,50,350]
// which columns carry a mark per age row, b=big m=medium s=small
const ageBig = [[0,1],[1],[0,1,5,6,20],[0,1,5,6,20],[0,1,5,20],[1,5,20,24],[]]
const ageMed = [[],[5],[27],[],[13],[0,3],[]]
const ageSmall = [[13,20,27],[6,20,27],[3,4,9,10,14,18,21,29],[3,4,10,21,23,24],[3,6,9,24,32],[8,9,10,13,23,58],[]]

// ---------- drawing ----------
const svg = d3.select("#chart").append("svg").attr("width", 1627).attr("height", 2040)
const defs = svg.append("defs")
const blueRed = d3.scaleLinear().domain([-2,0,2]).range(["#0000ff","#ffffff","#ff0000"]).clamp(true)

function gradient(id, stops, vertical) {
  const g = defs.append("linearGradient").attr("id", id).attr("x1",0).attr("y1",vertical?1:0).attr("x2",vertical?0:1).attr("y2",0)
  stops.forEach((c,i) => g.append("stop").attr("offset", i/(stops.length-1)).attr("stop-color", c))
}
gradient("gradBR", ["#0000ff","#ffffff","#ff0000"])
gradient("gradTau", ["#f4f8fe","#8a90c4"])
gradient("gradViridis", d3.range(9).map(i => d3.interpolateViridis(i/8)))
gradient("gradReds", ["#ffffff","#fb6a4a","#cb181d","#67000d"], true)

// white grain that breaks up the heatmap
const grain = defs.append("filter").attr("id","grain").attr("x",0).attr("y",0).attr("width",1).attr("height",1)
grain.append("feTurbulence").attr("type","fractalNoise").attr("baseFrequency","0.35 0.8").attr("numOctaves",2).attr("seed",3)
grain.append("feColorMatrix").attr("values","0 0 0 0 1  0 0 0 0 1  0 0 0 0 1  3.2 0 0 0 -1.35")
defs.append("filter").attr("id","soft").attr("x",0).attr("y",0).attr("width",1).attr("height",1)
  .append("feGaussianBlur").attr("stdDeviation",.5)
// fine speckle for the tSNE blobs
const speck = defs.append("filter").attr("id","speck").attr("x","-10%").attr("y","-10%").attr("width","120%").attr("height","120%")
speck.append("feTurbulence").attr("type","fractalNoise").attr("baseFrequency",0.6).attr("numOctaves",2).attr("seed",8).attr("result","n")
speck.append("feDisplacementMap").attr("in","SourceGraphic").attr("in2","n").attr("scale",9).attr("result","d")
speck.append("feColorMatrix").attr("in","n").attr("values","0 0 0 0 0  0 0 0 0 0  0 0 0 0 0  7 0 0 0 -2.35").attr("result","m")
speck.append("feComposite").attr("in","d").attr("in2","m").attr("operator","in")

function panelLetter(t, x, y) {
  svg.append("text").attr("x",x).attr("y",y).attr("font-size",40).attr("font-weight","bold").text(t)
}
panelLetter("A",28,38); panelLetter("B",792,38); panelLetter("C",45,817); panelLetter("D",694,817); panelLetter("E",1126,817); panelLetter("F",36,1435)

const parseSeg = s => { const [r,z] = s.split(":"); const [a,b] = r.split(/(?<=\d)-/).map(Number); return {a,b,z: z===undefined?2:+z} }

function drawA() {
  const g = svg.append("g")
  const x = d3.scaleLinear().domain([174,1517]).range([87,755])
  // colour bar
  g.append("rect").attr("x",83).attr("y",21).attr("width",133).attr("height",19).attr("fill","url(#gradBR)")
  ;[["-2",81],["0",149],["2",215]].forEach(d => g.append("text").attr("x",d[1]).attr("y",17).attr("text-anchor","middle").attr("font-size",12).attr("fill","#333").text(d[0]))
  g.append("text").attr("x",149).attr("y",55).attr("text-anchor","middle").attr("font-size",12.4).attr("fill","#333").text("Standardised expression")
  g.append("text").attr("x",411).attr("y",35).attr("text-anchor","middle").attr("font-size",22).attr("fill","#222").text("251 annotations")

  // annotation bar
  groupLabels.forEach((l,i) => {
    const x0 = x(groupEdges[i]), x1 = x(groupEdges[i+1]), cx = (x0+x1)/2
    g.append("rect").attr("x",x0).attr("y",97).attr("width",x1-x0).attr("height",21.5).attr("fill",groupColors[i])
    if (x1-x0 > 10) {
      const t = g.append("text").attr("x",cx - (groupSubs[i]?2:0)).attr("y",115).attr("text-anchor","middle").attr("font-size",20).attr("fill","#fff").attr("fill-opacity",.92).text(l)
      if (groupSubs[i]) t.append("tspan").attr("font-size",10).attr("dy",2).attr("dx",0).text(groupSubs[i])
      g.append("text").attr("x",cx).attr("y",95).attr("text-anchor","middle").attr("font-size",13.5).attr("fill","#222").text(groupCounts[i])
    }
  })
  // call outs above the narrow groups
  const callouts = [["F",5,1042,1073,68,"2",50],["O",6,1080,1081,61,"1",43],["H",7,1128,1090,68,"2",50],["T",13,1432,1432,62,"1",43],["C",15,1476,1476,62,"3",43]]
  callouts.forEach(c => {
    g.append("text").attr("x",x(c[2])).attr("y",c[4]+7).attr("text-anchor","middle").attr("font-size",20).attr("fill","#222").text(c[0])
    g.append("text").attr("x",x(c[2]+2)).attr("y",c[6]+5).attr("text-anchor","middle").attr("font-size",13.5).attr("fill","#222").text(c[5])
    const bottom = c[0]==="T" ? 118 : 97
    g.append("path").attr("fill","none").attr("stroke","#333").attr("stroke-width",1)
      .attr("d",d3.line()([[x(c[2]+(c[3]>c[2]?18:c[3]<c[2]?-18:0)),c[4]+9],[x(c[3]),85],[x(c[3]),bottom]]))
  })

  // fifteen marker rows
  const y = d3.scaleBand().domain(topRows).range([119,303]).padding(0)
  const rowsG = g.append("g").attr("filter","url(#soft)")
  topRows.forEach((r,i) => {
    rowsG.append("rect").attr("x",87).attr("y",y(r)).attr("width",668).attr("height",y.bandwidth()).attr("fill",blueRed(topBase[i]))
    topSegs[i].split(" ").map(parseSeg).forEach(s => {
      rowsG.append("rect").attr("x",x(s.a)).attr("y",y(r)).attr("width",x(s.b)-x(s.a)).attr("height",y.bandwidth()).attr("fill",blueRed(s.z))
    })
    g.append("text").attr("x",78).attr("y",y(r)+y.bandwidth()/2+4).attr("text-anchor","end").attr("font-size",12.5).attr("fill","#333").text(r)
    g.append("line").attr("x1",81).attr("x2",86).attr("y1",y(r)+y.bandwidth()/2).attr("y2",y(r)+y.bandwidth()/2).attr("stroke","#444")
  })
  g.append("rect").attr("x",87).attr("y",119).attr("width",668).attr("height",184).attr("fill","#fff").attr("filter","url(#grain)").attr("opacity",.3)

  // main heatmap, read-off units run 0..2010 wide, 0..1385 tall
  const u = d3.scaleLinear().domain([6,2010]).range([87,755])
  const v = d3.scaleLinear().domain([6,1385]).range([312,771])
  const m = g.append("g").attr("filter","url(#soft)")
  const band = (a,b,c1,c2,color,op) => m.append("rect").attr("x",u(a)).attr("width",u(b)-u(a)).attr("y",v(c1)).attr("height",v(c2)-v(c1)).attr("fill",color).attr("fill-opacity",op===undefined?1:op)
  band(6,2010,6,1385,blueRed(-.28))
  mainBands.forEach(s => { const p = parseSeg(s); band(6,2010,p.a,p.b,blueRed(p.z),.55) })
  mainColsBlue.forEach(s => { const p = parseSeg(s); band(p.a,p.b,100,1380,"#6a6aff",.14) })
  mainColsPale.forEach(s => { const p = parseSeg(s); band(p.a,p.b,6,1385,"#ffffff",.3) })
  blueRightBlocks.forEach(s => { const [a,b] = s.split(":").map(parseSeg); band(a.a+1005,a.b+1005,b.a,b.b,blueRed(-1.5),.8) })
  hotRightBlocks.forEach(s => { const [a,b] = s.split(":").map(parseSeg); band(a.a+1005,a.b+1005,b.a,b.b,"#ff0000") })
  paleRightGaps.forEach(s => { const [a,b] = s.split(":").map(parseSeg); band(a.a+1005,a.b+1005,b.a,b.b,"#ffd0d0") })
  const hot = (lines, off) => lines.forEach(l => {
    const p = l.split(" "), row = +p[0]
    p.slice(1).map(parseSeg).forEach(s => band(s.a+off,s.b+off,row-2.5,row+2.5,"#ff0000",.88))
  })
  hot(hotLeft,0); hot(hotRight,1005)
  const spots = (lines, off) => lines.forEach(l => {
    const p = l.split(" ").map(Number)
    p.slice(1).forEach(c => band(c+off,c+off+8,p[0]-2.5,p[0]+2.5,"#ff2020",.75))
  })
  spots(spotsLeft,0); spots(spotsRight,1005)
  g.append("rect").attr("x",87).attr("y",312).attr("width",668).attr("height",459).attr("fill","#fff").attr("filter","url(#grain)").attr("opacity",.5)
}

function drawC() {
  const g = svg.append("g")
  const cg = g.append("g").attr("filter","url(#soft)")
  const x = d3.scaleBand().domain(d3.range(18)).range([86,626])
  const y = d3.scaleLinear().domain([22,1280]).range([789,1302.5])
  const muted = t => d3.interpolateRgb(d3.interpolateViridis(t),"#555566")(.1)
  const cell = (col,zy,h,val) => cg.append("rect").attr("x",x(col)).attr("width",x.bandwidth()+.5).attr("y",y(zy)).attr("height",y(zy+h)-y(zy)+.2).attr("fill",muted(val))
  const digit = { 3:.3, 4:.43, 5:.5, 6:.6, 7:.87, 8:.93, 9:1 }
  cColBase.forEach((b,c) => cell(c,22,1258,b))
  cStripes.forEach(s => cell(s[0],s[1]-4,8,s[2]))
  cBlockDigits.forEach((d,c) => d.split("").forEach((k,i) => cell(c,cBlockStart[c]+i*8,8,digit[k])))
  cTeal5.split("").forEach((k,i) => cell(5,282+i*8,8,digit[k]))
  cTeal6.split("").forEach((k,i) => cell(6,282+i*8,8,digit[k]))
  cTFs.forEach((t,i) => {
    g.append("path").attr("fill","none").attr("stroke","#777").attr("stroke-width",1.2)
      .attr("d",d3.line()([[629,y(cTFrow[i])],[641,y(cTFpos[i])]]))
    g.append("text").attr("x",644).attr("y",y(cTFpos[i])+6).attr("font-size",17).attr("fill","#1f7f86").text(t)
  })
  cCells.forEach((c,i) => {
    g.append("text").attr("transform",`translate(${x(i)+x.bandwidth()/2+9},1312) rotate(-45)`).attr("text-anchor","end").attr("font-size",17).attr("fill",cColors[i]).text(c)
  })
}

function drawB() {
  const g = svg.append("g")
  const x = d3.scaleLinear().domain([0,1568]).range([780,1627])
  const y = d3.scaleLinear().domain([0,2400]).range([0,800])
  const tau = d3.scaleLinear().domain([0,1]).range(["#eef3fc","#8a90c4"])
  const gx = {}, gy = {}
  geneNames.forEach((n,i) => { gx[n] = x(geneX[i]); gy[n] = y(geneY[i]) })
  // edges first
  const edge = (x1,y1,x2,y2,c,w) => g.append("line").attr("x1",x1).attr("y1",y1).attr("x2",x2).attr("y2",y2).attr("stroke",c).attr("stroke-width",w)
  edgeHub.forEach((h,i) => {
    const hx = x(hubX[h]), hy = y(hubY[h])
    edgeWeak[i].split(" ").filter(Boolean).forEach(n => edge(hx,hy,gx[n],gy[n],"#e3e3e3",1.3))
    edgeStrong[i].split(" ").filter(Boolean).forEach(n => edge(hx,hy,gx[n],gy[n],"#a8a8a8",1.1))
  })
  simPairs.forEach((p,i) => edge(x(hubX[p[0]]),y(hubY[p[0]]),x(hubX[p[1]]),y(hubY[p[1]]),i<4?"#a565ad":"#cfa6d1",1.3))

  // gene nodes
  geneNames.forEach((n,i) => {
    g.append("ellipse").attr("cx",gx[n]).attr("cy",gy[n]).attr("rx",16.5).attr("ry",10).attr("fill",tau(geneTau[i]))
    g.append("text").attr("x",gx[n]).attr("y",gy[n]+4).attr("text-anchor","middle").attr("font-size",n.length>10?10.5:11.5).attr("fill","#4d4d4d").text(n)
  })
  // hexagons
  const hex = (cx,cy,hw,tw,hh) => d3.line()([[cx-hw,cy],[cx-tw,cy-hh],[cx+tw,cy-hh],[cx+hw,cy],[cx+tw,cy+hh],[cx-tw,cy+hh]])+"Z"
  const words = {"female reproductive system":["female","reproductive","system"],"male reproductive system":["male","reproductive","system"],"male germline cell":["male","germline","cell"],"female germline cell":["female","germline","cell"],"somatic precursor cell":["somatic","precursor","cell"],"hemocyte":["hemocyte"],"oenocyte":["oenocyte"],"gland":["gland"]}
  hubNames.forEach((n,i) => {
    const cx = x(hubX[i]), cy = y(hubY[i])
    g.append("path").attr("d",hex(cx,cy,48,25,23)).attr("fill",hubColors[i])
    const ln = words[n] || n.split(" ")
    ln.forEach((w,k) => g.append("text").attr("x",cx).attr("y",cy+5+(k-(ln.length-1)/2)*15.5).attr("text-anchor","middle").attr("font-size",w.length>10?14:15).attr("fill",hubText[i]).text(w))
  })
  // top legend
  const dash = (a,b,c,d) => g.append("rect").attr("x",x(a)).attr("y",y(b)).attr("width",x(c)-x(a)).attr("height",y(d)-y(b)).attr("fill","none").attr("stroke","#333").attr("stroke-dasharray","2 2")
  dash(80,140,440,565)
  g.append("path").attr("d",hex(x(208),y(245),52,26,24.5)).attr("fill","#c9a3c5")
  g.append("text").attr("x",x(206)).attr("y",y(225)).attr("text-anchor","middle").attr("font-size",15).attr("fill","#444").text("broad")
  g.append("text").attr("x",x(206)).attr("y",y(280)).attr("text-anchor","middle").attr("font-size",15).attr("fill","#444").text("annotation")
  g.append("ellipse").attr("cx",x(385)).attr("cy",y(245)).attr("rx",17).attr("ry",10).attr("fill","#8a90c4")
  g.append("text").attr("x",x(385)).attr("y",y(245)+4.5).attr("text-anchor","middle").attr("font-size",14).attr("fill","#333").text("gene")
  g.append("text").attr("x",x(112)).attr("y",y(402)).attr("font-size",14.5).attr("fill","#222").text("gene node colour: tau")
  g.append("rect").attr("x",x(112)).attr("y",y(415)).attr("width",x(418)-x(112)).attr("height",y(493)-y(415)).attr("fill","url(#gradTau)")
  g.append("text").attr("x",x(112)).attr("y",y(535)).attr("font-size",15).attr("fill","#222").text("0.85")
  g.append("text").attr("x",x(420)).attr("y",y(535)).attr("text-anchor","end").attr("font-size",15).attr("fill","#222").text("1.0")
  // bottom legend
  dash(47,1722,527,2347)
  const lg = [["annotation → TF edges:",65,1788],["normalized expression (z-score)",65,1855],["1.5",65,1923],["4.0",65,1990],["annotation → annotation edges:",65,2098],["semantic similarity",65,2165],["0.5",65,2231],["0.9",65,2298]]
  lg.forEach(d => g.append("text").attr("x",x(d[1])).attr("y",y(d[2])).attr("font-size",16.8).attr("fill","#222").text(d[0]))
  ;[[1911,"#e8e8e8"],[1978,"#999999"],[2224,"#e3cbe5"],[2288,"#a565ad"]].forEach(d => edge(x(133),y(d[0]),x(452),y(d[0]),d[1],1.4))
}

function drawD() {
  const g = svg.append("g")
  const x = d3.scaleLinear().domain([0,1568]).range([680,1627])
  const y = d3.scaleLinear().domain([0,1568]).range([780,1400])
  g.append("text").attr("x",893).attr("y",839).attr("text-anchor","middle").attr("font-size",32).attr("fill","#111").html('head -- <tspan font-style="italic">gl</tspan> expression')
  const blobs = (list,color,op,f) => {
    const b = g.append("g").attr("filter",f)
    list.forEach(c => b.append("ellipse").attr("rx",x(c[2])-x(0)).attr("ry",y(c[3])-y(0)).attr("transform",`translate(${x(c[0])},${y(c[1])}) rotate(${c[4]})`).attr("fill",color).attr("fill-opacity",op))
  }
  blobs(greyClusters,"#c4bebb",1,"url(#speck)")
  blobs(redClusters,"#a50f15",1,"url(#speck)")
  redSpots.forEach(p => g.append("circle").attr("cx",x(p[0])).attr("cy",y(p[1])).attr("r",1.4).attr("fill","#c0282a"))
  const closed = d3.line().curve(d3.curveCardinalClosed.tension(.2)).x(d => x(d[0])).y(d => y(d[1]))
  ;[photoOutline,coneOutline].forEach(o => g.append("path").attr("d",closed(o)).attr("fill","none").attr("stroke","#333").attr("stroke-width",1.2).attr("stroke-dasharray","3 2.5"))
  g.append("text").attr("x",708).attr("y",903).attr("font-size",23).attr("fill","#111").text("Photoreceptors")
  g.append("text").attr("x",995).attr("y",1227).attr("font-size",23).attr("fill","#111").text("Cone cells")
  // Ins colour bar
  const ins = d3.scaleLinear().domain([-2,4]).range([703,809])
  g.append("rect").attr("x",703).attr("y",1302).attr("width",106).attr("height",20).attr("fill","url(#gradViridis)")
  g.append("text").attr("x",756).attr("y",1295).attr("text-anchor","middle").attr("font-size",15).attr("font-weight","bold").attr("fill","#222").text("Ins")
  ins.ticks(3).forEach(t => {
    g.append("line").attr("x1",ins(t)).attr("x2",ins(t)).attr("y1",1302).attr("y2",1306).attr("stroke","#fff")
    g.append("text").attr("x",ins(t)).attr("y",1339).attr("text-anchor","middle").attr("font-size",15.5).attr("fill","#222").text(t<0?"−"+(-t):t)
  })
  // log(CPM) bar
  g.append("rect").attr("x",1034.5).attr("y",1274).attr("width",15).attr("height",63).attr("fill","url(#gradReds)")
  g.append("text").attr("x",1056).attr("y",1274).attr("font-size",15.5).attr("fill","#222").text("10")
  g.append("text").attr("x",1056).attr("y",1306).attr("font-size",15.5).attr("fill","#222").text("log(CPM)")
  g.append("text").attr("x",1056).attr("y",1338).attr("font-size",15.5).attr("fill","#222").text("0")
}

function drawE() {
  const g = svg.append("g")
  g.append("text").attr("x",1368).attr("y",835).attr("text-anchor","middle").attr("font-size",32).attr("fill","#111").html('<tspan font-style="italic">gl</tspan> regulon')
  // sequence logo
  const lx = d3.scaleLinear().domain([0,1568]).range([680,1627])
  const ly = d3.scaleLinear().domain([0,1568]).range([780,1400])
  g.append("line").attr("x1",lx(808)).attr("x2",lx(808)).attr("y1",ly(183)).attr("y2",ly(445)).attr("stroke","#777")
  g.append("line").attr("x1",lx(808)).attr("x2",lx(1510)).attr("y1",ly(445)).attr("y2",ly(445)).attr("stroke","#bbb")
  logoLetters.forEach(l => {
    const t = g.append("text").attr("font-size",100).attr("font-weight","bold").attr("fill",l[5]).text(l[0])
    const b = t.node().getBBox()
    const sx = (lx(l[2])-lx(l[1]))/b.width, sy = (ly(l[4])-ly(l[3]))/72 // cap height is .72 em
    t.attr("transform",`translate(${lx(l[1])-b.x*sx},${ly(l[4])}) scale(${sx},${sy})`)
  })
  // regulon network
  const x = d3.scaleLinear().domain([0,1440]).range([1120,1600])
  const y = d3.scaleLinear().domain([0,1260]).range([960,1380])
  const hubX0 = x(738), hubY0 = y(652)
  const outer = outerPts.map(s => s.split(",").map(Number))
  outer.forEach(o => g.append("line").attr("x1",hubX0).attr("y1",hubY0).attr("x2",x(o[0])).attr("y2",y(o[1])).attr("stroke","#999").attr("stroke-opacity",.32).attr("stroke-width",1.2))
  const tint = ["#cfe3fa","#dcebe4","#b7d4dc","#8db6d0"]
  outer.forEach(o => g.append("ellipse").attr("cx",x(o[0])).attr("cy",y(o[1])).attr("rx",12.5).attr("ry",6.8).attr("fill",tint[o[2]]).attr("fill-opacity",.62))
  innerNames.forEach((n,i) => g.append("line").attr("x1",hubX0).attr("y1",hubY0).attr("x2",x(innerX[i])).attr("y2",y(innerY[i])).attr("stroke","#777").attr("stroke-opacity",.8).attr("stroke-width",1.3))
  const node = (cx,cy,rx,ry,t) => {
    g.append("ellipse").attr("cx",cx).attr("cy",cy).attr("rx",rx).attr("ry",ry).attr("fill","#1e96ee").attr("stroke","#1878c0")
    g.append("text").attr("x",cx).attr("y",cy+5).attr("text-anchor","middle").attr("font-size",14.5).attr("fill","#10263a").text(t)
  }
  innerNames.forEach((n,i) => node(x(innerX[i]),y(innerY[i]),23,10,n))
  node(hubX0,hubY0,31,15,"gl")
}

function drawF() {
  const g = svg.append("g")
  const x = d3.scaleBand().domain(d3.range(59)).range([329.6,1622]).padding(0)
  const cx = i => x(i)+x.bandwidth()/2
  const y = d3.scaleBand().domain(d3.range(17)).range([1666,1998.5])
  const cy = i => y(i)+y.bandwidth()/2
  const ya = d3.scaleBand().domain(d3.range(7)).range([1465.5,1579.5])
  const ay = i => ya(i)+ya.bandwidth()/2
  const ink = "#000"

  // zebra
  d3.range(0,17,2).forEach(r => g.append("rect").attr("x",58).attr("width",1565).attr("y",y(r)+1.5).attr("height",y.bandwidth()-3).attr("fill","#f4f4f4"))

  // age grid and dots
  ;[0,2,4,6].forEach(r => g.append("line").attr("x1",329).attr("x2",1622).attr("y1",ay(r)).attr("y2",ay(r)).attr("stroke","#d8d8d8").attr("stroke-width",1.5))
  g.append("line").attr("x1",329).attr("x2",329).attr("y1",1469).attr("y2",1575).attr("stroke","#555")
  d3.range(7).forEach(r => g.append("line").attr("x1",326).attr("x2",329).attr("y1",ay(r)).attr("y2",ay(r)).attr("stroke","#555"))
  const ageDot = (c,r,rx,ry) => g.append("ellipse").attr("cx",cx(c)).attr("cy",ay(r)).attr("rx",rx).attr("ry",ry).attr("fill",ink)
  ageBig.forEach((l,r) => l.forEach(c => ageDot(c,r,4.2,4.6)))
  ageMed.forEach((l,r) => l.forEach(c => ageDot(c,r,3,4)))
  ageSmall.forEach((l,r) => l.forEach(c => ageDot(c,r,1.8,4)))
  d3.range(59).forEach(c => ageDot(c,6,4.2,4.2))

  // age tree
  const tx = d3.scaleLinear().domain([0,6]).range([75.8,154.8])
  const ty = d3.scaleLinear().domain([0,6]).range([1521,1468])
  const tEnd = [1573,1557,1540,1524,1507,1487]
  tEnd.forEach((e,i) => g.append("line").attr("x1",tx(i)).attr("y1",ty(i)).attr("x2",154).attr("y2",e).attr("stroke","#555").attr("stroke-width",1.2))
  d3.range(7).forEach(i => {
    g.append("circle").attr("cx",tx(i)).attr("cy",ty(i)).attr("r",[2,3,4.5,6,7.5,8.5,9.5][i]).attr("fill","#222")
    g.append("text").attr("x",tx(i)-10-i*.6).attr("y",ty(i)-6-i).attr("text-anchor","middle").attr("font-size",17).attr("fill","#333").text(i)
  })
  g.append("text").attr("x",172).attr("y",1453).attr("font-size",18).attr("font-weight","bold").attr("font-family","Open Sans").attr("fill","#111").text("gene age")
  ageNames.forEach((n,i) => g.append("text").attr("x",168).attr("y",ay(i)+5.5).attr("font-size",17).attr("font-style","italic").attr("fill",i?"#222":"#3a3aff").text(n))

  // gene set size bars
  const sz = d3.scaleLinear().domain([0,1000]).range([1641,1599.7])
  ;[0,500,1000].forEach(t => g.append("line").attr("x1",329).attr("x2",1622).attr("y1",sz(t)).attr("y2",sz(t)).attr("stroke","#d8d8d8").attr("stroke-width",1.2))
  g.append("line").attr("x1",329).attr("x2",329).attr("y1",1587).attr("y2",1642).attr("stroke","#555")
  ;[0,1000].forEach(t => g.append("text").attr("x",322).attr("y",sz(t)+6).attr("text-anchor","end").attr("font-size",17).attr("fill","#333").text(t))
  setSizes.forEach((s,i) => g.append("rect").attr("x",cx(i)-5.5).attr("y",sz(s)).attr("width",11).attr("height",sz(0)-sz(s)).attr("fill",ink))
  g.append("text").attr("x",163).attr("y",1625).attr("font-size",18.5).attr("font-weight","bold").attr("font-family","Open Sans").attr("fill","#111").text("gene set size")

  // membership matrix
  d3.range(59).forEach(c => d3.range(17).forEach(r => g.append("ellipse").attr("cx",cx(c)).attr("cy",cy(r)).attr("rx",5).attr("ry",6).attr("fill","#d6d6d6")))
  combos.forEach((m,c) => {
    if (m.length>1) g.append("line").attr("x1",cx(c)).attr("x2",cx(c)).attr("y1",cy(d3.min(m))).attr("y2",cy(d3.max(m))).attr("stroke",ink).attr("stroke-width",2)
    m.forEach(r => g.append("ellipse").attr("cx",cx(c)).attr("cy",cy(r)).attr("rx",5.3).attr("ry",6.3).attr("fill",ink))
  })
  // set labels and totals
  const tot = d3.scaleLinear().domain([0,2500]).range([102,62])
  setNames.forEach((n,r) => {
    g.append("text").attr("x",318).attr("y",cy(r)+3).attr("text-anchor","end").attr("font-size",16.9).attr("fill","#222").text(n)
    g.append("rect").attr("x",tot(setTotals[r])).attr("width",tot(0)-tot(setTotals[r])).attr("y",cy(r)-5.5).attr("height",11).attr("fill",ink)
  })
  ;[0,2500].forEach(t => {
    g.append("line").attr("x1",tot(t)).attr("x2",tot(t)).attr("y1",1653).attr("y2",2012).attr("stroke","#ccc")
    g.append("text").attr("x",t?tot(t):tot(t)+4).attr("y",2035).attr("text-anchor","middle").attr("font-size",16.5).attr("fill","#333").text(t)
  })
  g.append("line").attr("x1",58).attr("x2",103).attr("y1",2012).attr("y2",2012).attr("stroke","#999").attr("stroke-width",1.5)
  g.append("text").attr("transform","translate(46,1832) rotate(-90)").attr("text-anchor","middle").attr("font-size",20).attr("font-family","DejaVu Sans").attr("fill","#222").text("number of unique genes")
  g.append("text").attr("x",445).attr("y",2014).attr("text-anchor","middle").attr("font-size",21).attr("fill","#222").text("specific genes")
  g.append("text").attr("x",1529).attr("y",2014).attr("text-anchor","middle").attr("font-size",21).attr("fill","#222").text("common genes")
}

drawA()
drawB()
drawC()
drawD()
drawE()
drawF()
svg.append("text").attr("transform","translate(47,518) rotate(-90)").attr("text-anchor","middle").attr("font-size",21.8).attr("fill","#222").text("500 transcription factors")
</script>
</body>
</html>
